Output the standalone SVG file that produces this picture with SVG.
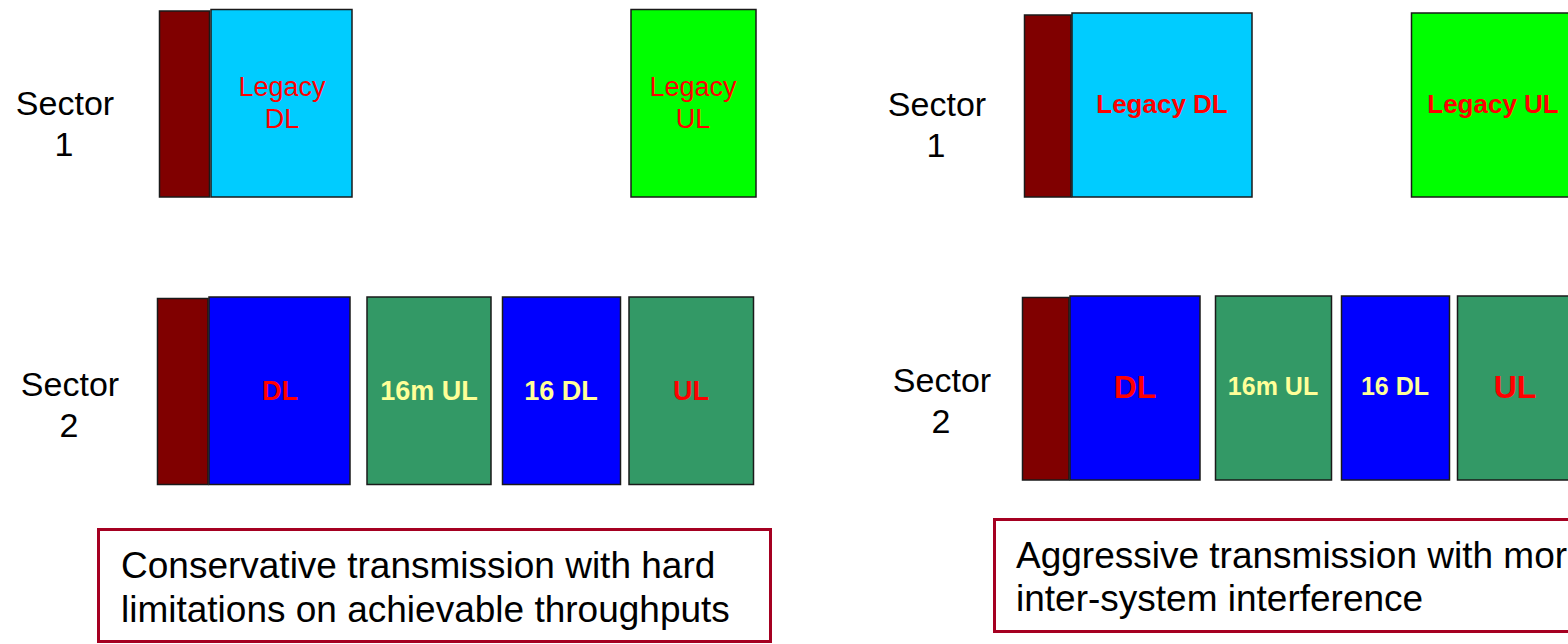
<svg xmlns="http://www.w3.org/2000/svg" width="1568" height="644" viewBox="0 0 1568 644">
  <style>
    .blk { stroke: #1a1a1a; stroke-width: 1.5; }
    .guard { fill: #800000; }
    .legdl { fill: #00CCFF; }
    .legul { fill: #00FF00; }
    .dl { fill: #0000FF; }
    .ul { fill: #339966; }
    .lbl { font-family: "Liberation Sans", Arial, sans-serif; text-anchor: middle; }
    .sector { font-size: 34px; fill: #000; }
    .red { fill: #FF0000; }
    .yel { fill: #FFFF99; }
    .b { font-weight: bold; }
    .note { fill: #fff; stroke: #A50021; stroke-width: 3; }
    .notetxt { font-family: "Liberation Sans", Arial, sans-serif; font-size: 37px; fill: #000; }
  </style>
  <rect width="1568" height="644" fill="#fff"/>

  <!-- Left scenario: conservative -->
  <g id="left-sector1-label">
    <text class="lbl sector" x="65" y="115">Sector</text>
    <text class="lbl sector" x="64" y="156">1</text>
  </g>
  <g id="left-s1-guard"><rect class="blk guard" x="159.5" y="11" width="50" height="186"/></g>
  <g id="left-s1-legacy-dl">
    <rect class="blk legdl" x="211" y="9.5" width="141" height="187.5"/>
    <text class="lbl red" font-size="27" x="282" y="96">Legacy</text>
    <text class="lbl red" font-size="27" x="282" y="128">DL</text>
  </g>
  <g id="left-s1-legacy-ul">
    <rect class="blk legul" x="631" y="9.5" width="125" height="187.5"/>
    <text class="lbl red" font-size="27" x="693" y="96">Legacy</text>
    <text class="lbl red" font-size="27" x="693" y="128">UL</text>
  </g>

  <g id="left-sector2-label">
    <text class="lbl sector" x="70" y="396">Sector</text>
    <text class="lbl sector" x="69" y="437">2</text>
  </g>
  <g id="left-s2-guard"><rect class="blk guard" x="157.5" y="298.5" width="50.5" height="186"/></g>
  <g id="left-s2-dl">
    <rect class="blk dl" x="209" y="297" width="141" height="187.5"/>
    <text class="lbl b red" font-size="27" x="280" y="400">DL</text>
  </g>
  <g id="left-s2-16m-ul">
    <rect class="blk ul" x="367" y="297" width="124" height="187.5"/>
    <text class="lbl b yel" font-size="27" x="429" y="400">16m UL</text>
  </g>
  <g id="left-s2-16-dl">
    <rect class="blk dl" x="502.5" y="297" width="118" height="187.5"/>
    <text class="lbl b yel" font-size="27" x="561" y="400">16 DL</text>
  </g>
  <g id="left-s2-ul">
    <rect class="blk ul" x="629" y="297" width="124.5" height="187.5"/>
    <text class="lbl b red" font-size="27" x="691" y="400">UL</text>
  </g>

  <g id="left-note">
    <rect class="note" x="98.5" y="529.5" width="672" height="112"/>
    <text class="notetxt" x="121" y="578">Conservative transmission with hard</text>
    <text class="notetxt" x="121" y="622">limitations on achievable throughputs</text>
  </g>

  <!-- Right scenario: aggressive -->
  <g id="right-sector1-label">
    <text class="lbl sector" x="937" y="116">Sector</text>
    <text class="lbl sector" x="936" y="157">1</text>
  </g>
  <g id="right-s1-guard"><rect class="blk guard" x="1024.5" y="15" width="46.5" height="182"/></g>
  <g id="right-s1-legacy-dl">
    <rect class="blk legdl" x="1072" y="13" width="180" height="184"/>
    <text class="lbl b red" font-size="26" x="1162" y="113">Legacy DL</text>
  </g>
  <g id="right-s1-legacy-ul">
    <rect class="blk legul" x="1411.5" y="13" width="170" height="184"/>
    <text class="lbl b red" font-size="26" x="1493" y="113">Legacy UL</text>
  </g>

  <g id="right-sector2-label">
    <text class="lbl sector" x="942" y="392">Sector</text>
    <text class="lbl sector" x="941" y="433">2</text>
  </g>
  <g id="right-s2-guard"><rect class="blk guard" x="1022.5" y="297.5" width="46.5" height="182.5"/></g>
  <g id="right-s2-dl">
    <rect class="blk dl" x="1070" y="296" width="130" height="184"/>
    <text class="lbl b red" font-size="32" x="1135" y="398">DL</text>
  </g>
  <g id="right-s2-16m-ul">
    <rect class="blk ul" x="1215.5" y="296" width="116" height="184"/>
    <text class="lbl b yel" font-size="25" x="1273" y="395">16m UL</text>
  </g>
  <g id="right-s2-16-dl">
    <rect class="blk dl" x="1341.5" y="296" width="108" height="184"/>
    <text class="lbl b yel" font-size="25" x="1395" y="395">16 DL</text>
  </g>
  <g id="right-s2-ul">
    <rect class="blk ul" x="1457.5" y="296" width="120" height="184"/>
    <text class="lbl b red" font-size="32" x="1515" y="398">UL</text>
  </g>

  <g id="right-note">
    <rect class="note" x="994.5" y="519.5" width="600" height="112"/>
    <text class="notetxt" x="1016" y="568">Aggressive transmission with more</text>
    <text class="notetxt" x="1016" y="611">inter-system interference</text>
  </g>
</svg>
